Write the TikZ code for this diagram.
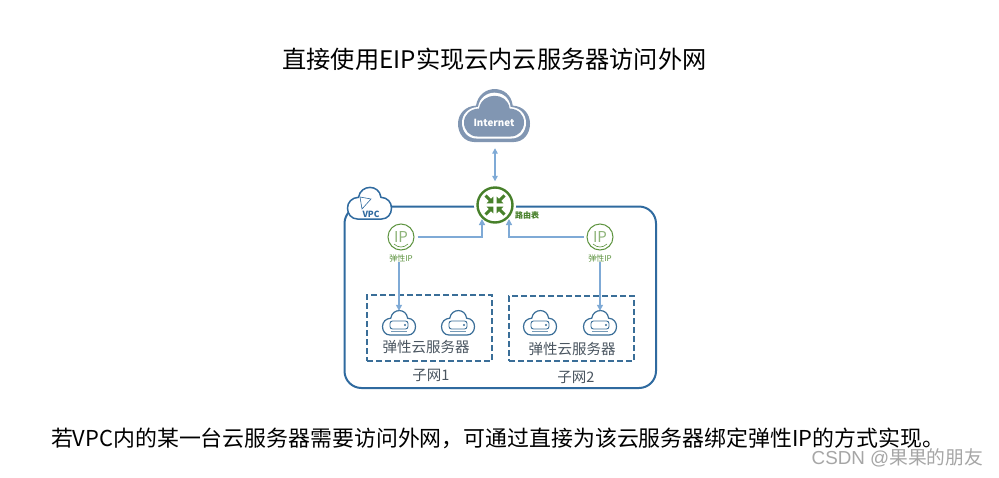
\documentclass[tikz,border=0pt]{standalone}
\usepackage{fontspec}
\setmainfont{Noto Sans CJK SC}
\newfontfamily\wmlatin{Liberation Sans}
\usetikzlibrary{arrows.meta,calc}
\definecolor{vpcblue}{HTML}{2F6A9F}
\definecolor{subblue}{HTML}{3A6E98}
\definecolor{linkblue}{HTML}{7FAAD6}
\definecolor{eipgreen}{HTML}{5E9440}
\definecolor{routergreen}{HTML}{47802A}
\definecolor{inetgray}{HTML}{8196B2}
\definecolor{txtgray}{HTML}{4A5560}
\tikzset{
  cloudpic/.pic={
    \path[pic actions] (-.55,1) .. controls (-.82,1) and (-1,.68) .. (-1,.3)
      .. controls (-1,-.08) and (-.8,-.38) .. (-.5,-.4)
      .. controls (-.4,-1.25) and (.45,-1.25) .. (.52,-.4)
      .. controls (.82,-.38) and (1,-.08) .. (1,.3)
      .. controls (1,.68) and (.82,1) .. (.55,1) -- cycle;
  },
  link/.style={draw=linkblue,line width=1.3pt,-{Triangle[length=6pt,width=6pt]}},
  dlink/.style={draw=linkblue,line width=1.3pt,{Triangle[length=5.5pt,width=5.5pt]}-{Triangle[length=5.5pt,width=5.5pt]}},
  eip/.style={circle,draw=eipgreen,fill=white,line width=1pt,minimum size=26pt,inner sep=0pt,text=eipgreen!70,font=\fontsize{15}{15}\selectfont},
  eiplabel/.style={text=eipgreen,font=\fontsize{8}{8}\selectfont,inner sep=0pt},
  subnet/.style={draw=subblue,line width=2pt,dash pattern=on 6pt off 3pt,inner sep=0pt},
  srvbox/.style={inner sep=0pt,minimum width=33pt,minimum height=24pt},
  srvlabel/.style={text=txtgray,font=\fontsize{14.5}{15}\selectfont,inner sep=0pt},
  netlabel/.style={text=txtgray,font=\fontsize{14.5}{15}\selectfont,inner sep=0pt},
  rarrow/.style={draw=routergreen,line width=3pt,-{Triangle[length=5pt,width=9pt]}},
}
\newcommand{\srvicon}[1]{%
  \pic[xscale=16.5,yscale=12,draw=subblue,line width=1.2pt,fill=white] at (#1) {cloudpic};
  \draw[subblue,line width=.9pt,rounded corners=2.5pt] ($(#1)+(-9,-2)$) rectangle ($(#1)+(9,6)$);
  \fill[subblue] ($(#1)+(6,2)$) circle (1.2pt);
  \draw[subblue!70,line width=.7pt] ($(#1)+(-8,8.5)$) -- ($(#1)+(8,8.5)$);
}
\begin{document}
\begin{tikzpicture}[x=1pt,y=-1pt]
\useasboundingbox (0,0) rectangle (999,477);
\fill[white] (0,0) rectangle (999,477);
% title
\node[inner sep=0pt,font=\fontsize{24.2}{26}\selectfont,text=black] (title) at (494.5,59) {直接使用EIP实现云内云服务器访问外网};
% VPC frame
\draw[vpcblue,line width=2pt,rounded corners=17pt] (344.5,206.5) rectangle (656,388);
\node[inner sep=0pt,minimum width=72pt,minimum height=52pt] (internet) at (494,116) {};
\pic[xscale=36,yscale=26,fill=inetgray] at (494,116) {cloudpic};
\pic[xscale=32,yscale=22.5,fill=white] at (494,116) {cloudpic};
\pic[xscale=30,yscale=20,fill=inetgray] at (494,116.5) {cloudpic};
\node[inner sep=0pt,text=white,font=\bfseries\fontsize{9.8}{10}\selectfont] (inettext) at (494,123) {Internet};
% router
\fill[white] (495,205) circle (21pt);
\node[circle,draw=routergreen,line width=2.4pt,fill=white,minimum size=35pt,inner sep=0pt] (router) at (495,205) {};
\foreach \sx/\sy in {-1/-1,1/-1,-1/1,1/1}{
  \draw[rarrow] ($(router)+(\sx*9.5,\sy*9.5)$) -- ($(router)+(\sx*1.5,\sy*1.5)$);
}
\node[inner sep=0pt,text=routergreen,font=\bfseries\fontsize{8}{8}\selectfont] (rtlabel) at (527,215) {路由表};
\draw[dlink,shorten <=6pt,shorten >=5pt] (internet.south -| router.north) -- (router.north);
% VPC cloud
\pic[xscale=22,yscale=15.5,draw=vpcblue,line width=1.5pt,fill=white] at (369.5,203.5) {cloudpic};
\node[inner sep=0pt,text=vpcblue,font=\bfseries\fontsize{8.5}{9}\selectfont] (vpclabel) at (371,214) {VPC};
\draw[vpcblue,line width=.6pt,fill=white] (360,197) -- (371,199) -- (362,209) -- cycle;
% EIPs
\node[eip] (ipl) at (401,237) {IP};
\node[eip] (ipr) at (600,237) {IP};
\draw[eipgreen,line width=.6pt] (394,244) .. controls (398,248) and (404,248) .. (408,244);
\draw[eipgreen,line width=.6pt] (593,244) .. controls (597,248) and (603,248) .. (607,244);
\node[eiplabel] (lblL) at (401,258) {弹性IP};
\node[eiplabel] (lblR) at (600,258) {弹性IP};
\coordinate (rl) at (482,219);
\coordinate (rr) at (509,219);
\draw[link] (ipl.east) ++(3,0) -| (rl);
\draw[link] (ipr.west) ++(-3,0) -| (rr);
% subnets
\node[subnet,minimum width=125pt,minimum height=66pt] (sub1) at (429.5,328) {};
\node[subnet,minimum width=125pt,minimum height=65pt] (sub2) at (571.5,328.5) {};
\node[srvbox] (s1) at (399,323) {};
\node[srvbox] (s2) at (458,323) {};
\node[srvbox] (s3) at (540,323) {};
\node[srvbox] (s4) at (600,323) {};
\srvicon{s1}
\srvicon{s2}
\srvicon{s3}
\srvicon{s4}
\draw[link] (lblL.south -| s1.north) -- (s1.north);
\draw[link] (lblR.south -| s4.north) -- (s4.north);
\node[srvlabel] (t1) at (426,347) {弹性云服务器};
\node[srvlabel] (t2) at (572,349) {弹性云服务器};
\node[netlabel] (n1) at (431,375) {子网1};
\node[netlabel] (n2) at (576,377) {子网2};
% caption
\node[inner sep=0pt,font=\fontsize{21.9}{24}\selectfont,text=black] (caption) at (497.5,438) {若VPC内的某一台云服务器需要访问外网，可通过直接为该云服务器绑定弹性IP的方式实现。};
\node[inner sep=0pt,text=black!35,font=\fontsize{18.8}{20}\selectfont] (wm) at (897.5,458) {{\wmlatin CSDN @}果果的朋友};
\end{tikzpicture}
\end{document}
